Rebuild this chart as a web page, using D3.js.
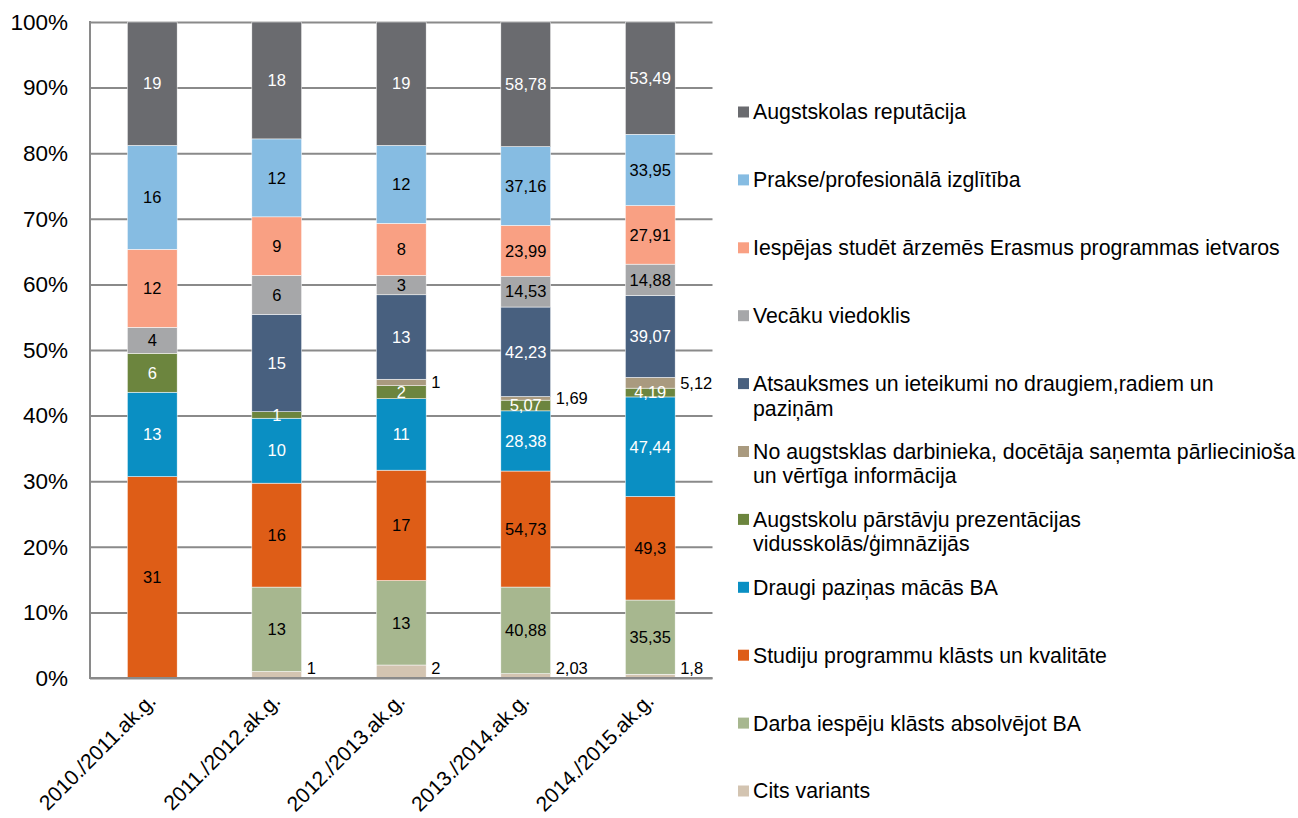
<!DOCTYPE html>
<html>
<head>
<meta charset="utf-8">
<script src="https://cdn.jsdelivr.net/npm/d3@7"></script>
<style>
  body { margin: 0; background: #fff; }
  svg { display: block; font-family: "Liberation Sans", Arial, sans-serif; }
</style>
</head>
<body>
<div id="chart"></div>
<script>
// Categories (academic years)
const categories = ['2010./2011.ak.g.', '2011./2012.ak.g.', '2012./2013.ak.g.', '2013./2014.ak.g.', '2014./2015.ak.g.'];

// Series values, bottom of the stack first
const citsVariants      = [0, 1, 2, 2.03, 1.8];
const darbaIespejas     = [0, 13, 13, 40.88, 35.35];
const studijuProgrammas = [31, 16, 17, 54.73, 49.3];
const draugiPazinas     = [13, 10, 11, 28.38, 47.44];
const prezentacijas     = [6, 1, 2, 5.07, 4.19];
const noDarbinieka      = [0, 0, 1, 1.69, 5.12];
const atsauksmes        = [0, 15, 13, 42.23, 39.07];
const vecakuViedoklis   = [4, 6, 3, 14.53, 14.88];
const erasmus           = [12, 9, 8, 23.99, 27.91];
const prakse            = [16, 12, 12, 37.16, 33.95];
const reputacija        = [19, 18, 19, 58.78, 53.49];

const seriesNames = [
    'Cits variants',
    'Darba iespēju klāsts absolvējot BA',
    'Studiju programmu klāsts un kvalitāte',
    'Draugi paziņas mācās BA',
    'Augstskolu pārstāvju prezentācijas vidusskolās/ģimnāzijās',
    'No augstsklas darbinieka, docētāja saņemta pārliecinioša un vērtīga informācija',
    'Atsauksmes un ieteikumi no draugiem,radiem un paziņām',
    'Vecāku viedoklis',
    'Iespējas studēt ārzemēs Erasmus programmas ietvaros',
    'Prakse/profesionālā izglītība',
    'Augstskolas reputācija'
];
const seriesValues = [citsVariants, darbaIespejas, studijuProgrammas, draugiPazinas, prezentacijas,
    noDarbinieka, atsauksmes, vecakuViedoklis, erasmus, prakse, reputacija];

// Legend line breaks as in the original
const legendLines = [
    ['Cits variants'],
    ['Darba iespēju klāsts absolvējot BA'],
    ['Studiju programmu klāsts un kvalitāte'],
    ['Draugi paziņas mācās BA'],
    ['Augstskolu pārstāvju prezentācijas', 'vidusskolās/ģimnāzijās'],
    ['No augstsklas darbinieka, docētāja saņemta pārliecinioša', 'un vērtīga informācija'],
    ['Atsauksmes un ieteikumi no draugiem,radiem un', 'paziņām'],
    ['Vecāku viedoklis'],
    ['Iespējas studēt ārzemēs Erasmus programmas ietvaros'],
    ['Prakse/profesionālā izglītība'],
    ['Augstskolas reputācija']
];

const colors = ['#d3c4b1', '#a7b78f', '#de5d17', '#0a8fc3', '#6c853e', '#a99a7f',
    '#48607f', '#a6a7a9', '#f9a083', '#86bce2', '#6a6b6f'];
const whiteText = [false, false, false, true, true, false, true, false, false, false, true];
const outsideLabel = [true, false, false, false, false, true, false, false, false, false, false];

// Build table for d3.stack
const table = categories.map((c, i) => {
    const row = { category: c };
    seriesNames.forEach((s, j) => { row[s] = seriesValues[j][i]; });
    return row;
});

const width = 1298, height = 818;
const plotLeft = 90, plotRight = 712.5, plotTop = 22, plotBottom = 678;

const svg = d3.select('#chart').append('svg')
    .attr('width', width)
    .attr('height', height);

const x = d3.scaleBand()
    .domain(categories)
    .range([plotLeft, plotRight])
    .paddingInner(0.6)
    .paddingOuter(0.3);

const y = d3.scaleLinear()
    .domain([0, 1])
    .range([plotBottom, plotTop]);

// Y axis with gridlines
const yAxis = svg.append('g')
    .attr('transform', `translate(${plotLeft},0)`)
    .call(d3.axisLeft(y)
        .tickValues(d3.range(0, 1.0001, 0.1))
        .tickFormat(d3.format('.0%'))
        .tickSize(-(plotRight - plotLeft))
        .tickPadding(22));
yAxis.select('.domain').remove();
yAxis.selectAll('.tick line')
    .attr('stroke', '#8a8a8a')
    .attr('stroke-width', 2);
yAxis.selectAll('.tick text')
    .attr('fill', '#000')
    .style('font-size', '22.5px')
    .style('font-family', '"Liberation Sans", Arial, sans-serif');

// Axis lines
svg.append('line')
    .attr('x1', plotLeft).attr('x2', plotLeft)
    .attr('y1', plotTop - 1).attr('y2', plotBottom + 1)
    .attr('stroke', '#8a8a8a').attr('stroke-width', 2);

// Stacked bars
const stack = d3.stack()
    .keys(seriesNames)
    .offset(d3.stackOffsetExpand);
const stacked = stack(table);

const layers = svg.append('g').selectAll('g')
    .data(stacked)
    .join('g')
    .attr('fill', (d, i) => colors[i]);

layers.selectAll('rect')
    .data(d => d)
    .join('rect')
    .attr('x', d => x(d.data.category))
    .attr('width', x.bandwidth())
    .attr('y', d => y(d[1]))
    .attr('height', d => Math.max(0, y(d[0]) - y(d[1])))
    .attr('stroke', '#fff')
    .attr('stroke-width', 0.5);

svg.append('line')
    .attr('x1', plotLeft - 1).attr('x2', plotRight)
    .attr('y1', plotBottom).attr('y2', plotBottom)
    .attr('stroke', '#8a8a8a').attr('stroke-width', 2);

// Data labels
const fmt = v => String(v).replace('.', ',');
stacked.forEach((layer, i) => {
    layer.forEach((d, k) => {
        const v = seriesValues[i][k];
        if (!v) return;
        const cy = (y(d[0]) + y(d[1])) / 2;
        const t = svg.append('text')
            .attr('dy', '0.35em')
            .style('font-size', '16.5px')
            .text(fmt(v));
        if (outsideLabel[i]) {
            t.attr('x', x(d.data.category) + x.bandwidth() + 5)
                .attr('y', Math.min(cy, plotBottom - 10))
                .attr('text-anchor', 'start')
                .attr('fill', '#000');
        } else {
            t.attr('x', x(d.data.category) + x.bandwidth() / 2)
                .attr('y', cy)
                .attr('text-anchor', 'middle')
                .attr('fill', whiteText[i] ? '#fff' : '#000');
        }
    });
});

// Category labels, rotated
svg.append('g').selectAll('text')
    .data(categories)
    .join('text')
    .attr('transform', d => `translate(${x(d) + x.bandwidth() / 2 + 5},${plotBottom + 24}) rotate(-45)`)
    .attr('text-anchor', 'end')
    .attr('fill', '#000')
    .style('font-size', '21px')
    .text(d => d);

// Legend (top series first)
const legendOrder = d3.range(seriesNames.length).reverse();
const legendY = d3.scaleLinear().domain([0, seriesNames.length - 1]).range([112, 791]);
const legend = svg.append('g').selectAll('g')
    .data(legendOrder)
    .join('g')
    .attr('transform', (d, i) => `translate(738,${legendY(i)})`);

legend.append('rect')
    .attr('x', 0).attr('y', -5.5)
    .attr('width', 11).attr('height', 11)
    .attr('fill', d => colors[d]);

legend.append('text')
    .attr('fill', '#000')
    .style('font-size', '21.3px')
    .selectAll('tspan')
    .data(d => legendLines[d])
    .join('tspan')
    .attr('x', 15)
    .attr('y', (d, i) => i * 24.5)
    .attr('dy', '0.35em')
    .text(d => d);
</script>
</body>
</html>
